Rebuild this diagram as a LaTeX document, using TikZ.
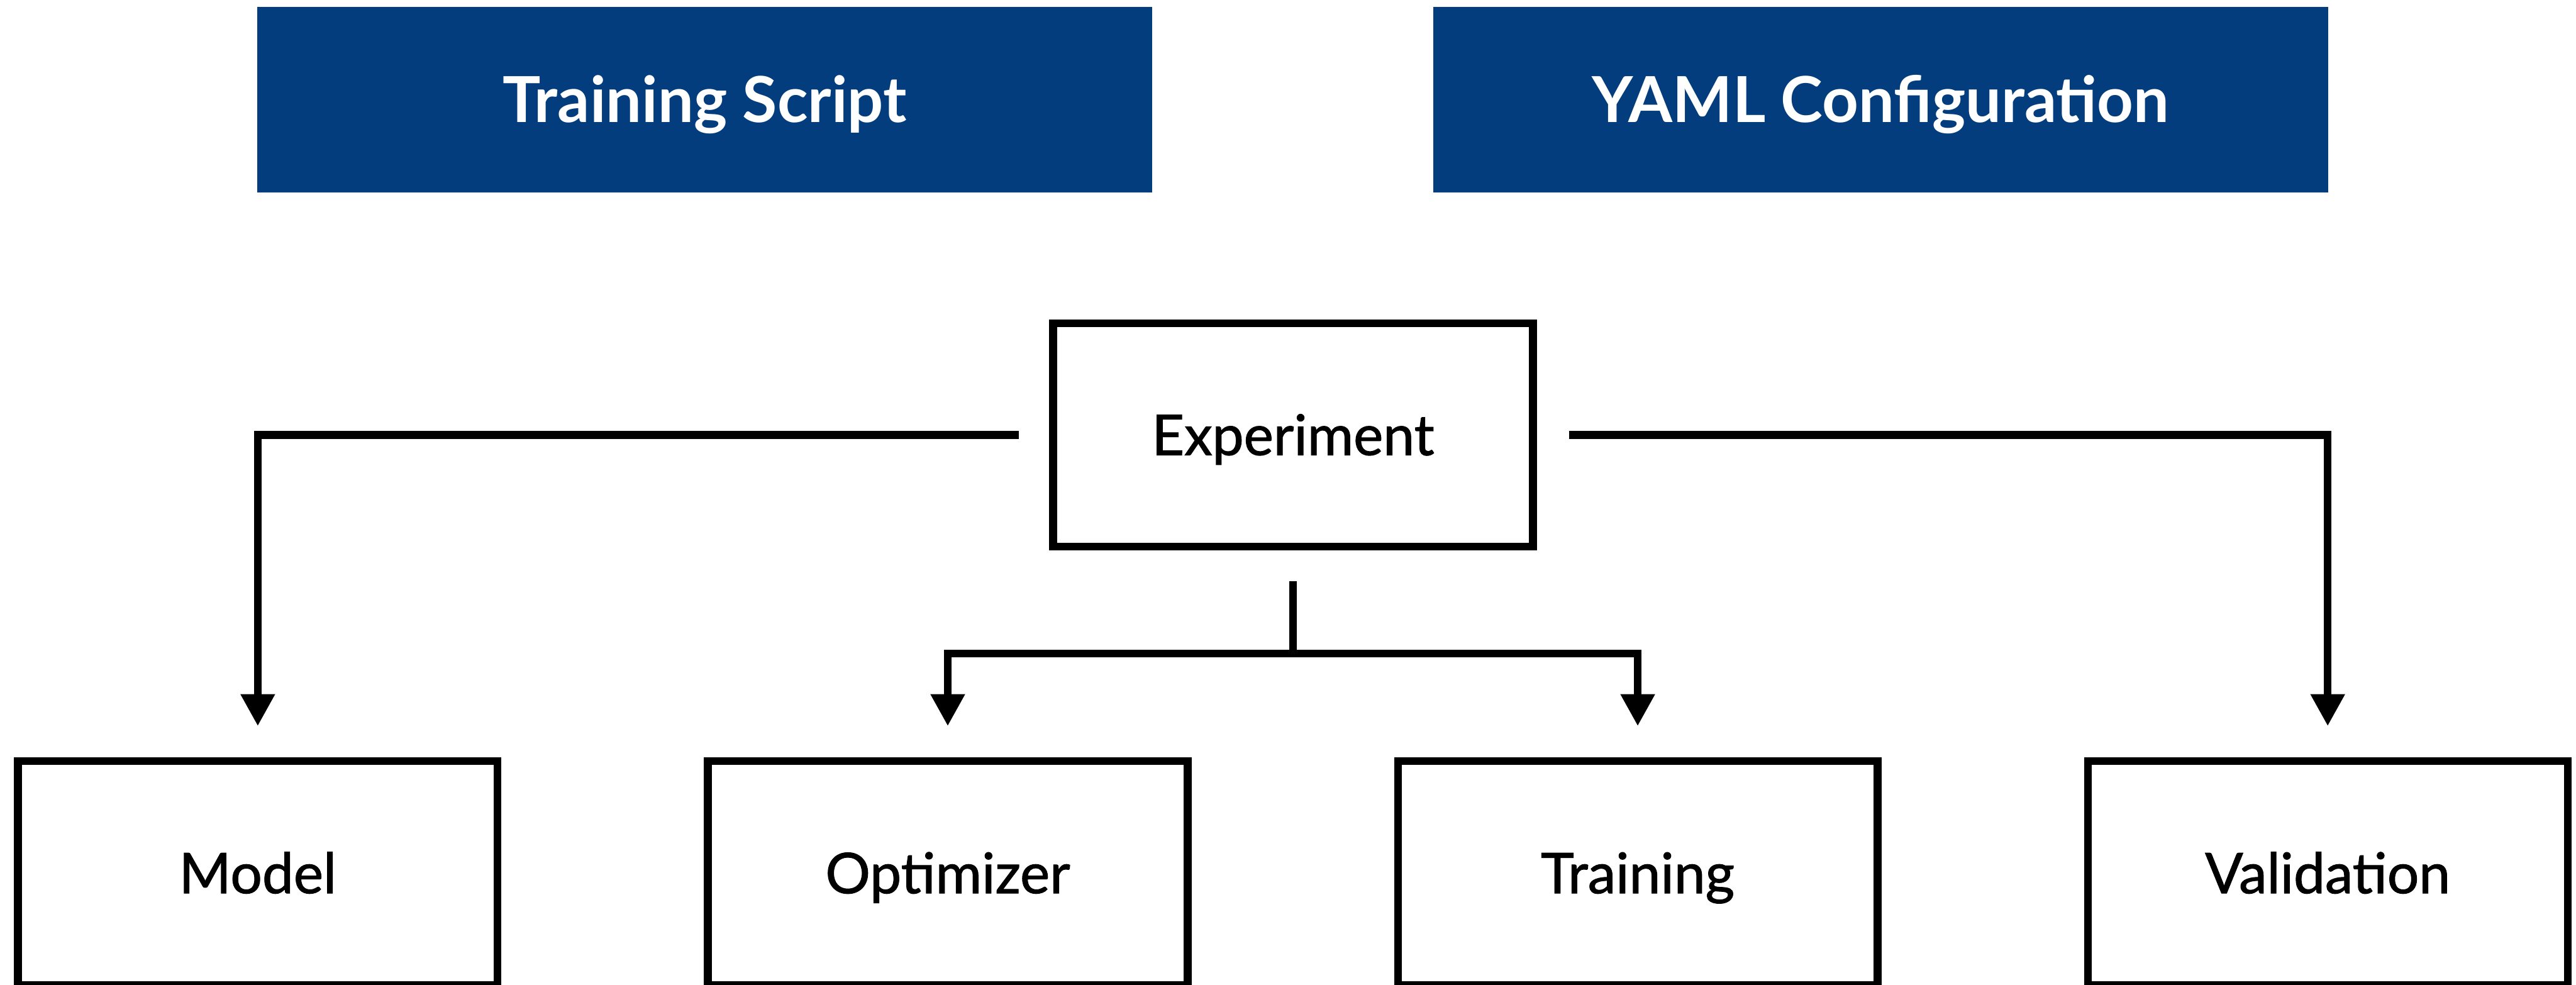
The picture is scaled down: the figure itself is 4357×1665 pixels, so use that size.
\documentclass[tikz,border=0pt]{standalone}
\usepackage{fontspec}
\setmainfont{Lato}
\newfontfamily\labelfont{Lato}[FakeBold=1.2]
\usetikzlibrary{arrows.meta}

\definecolor{headerblue}{RGB}{3,61,126}

\tikzset{
  header/.style={fill=headerblue, text=white, inner sep=0pt,
    minimum width=15.12cm, minimum height=3.13cm,
    font=\fontsize{30.5}{36}\selectfont\bfseries,
    text height=21.9pt, text depth=0pt},
  stepbox/.style={draw=black, line width=0.13cm, fill=white, inner sep=0pt,
    minimum width=8.11cm, minimum height=3.78cm,
    font=\fontsize{27}{32}\selectfont\labelfont,
    text height=19.4pt, text depth=0pt},
  link/.style={draw=black, line width=0.13cm, line join=miter},
  conn/.style={link, shorten >=0.53cm,
    -{Triangle[length=0.54cm, width=0.55cm]}},
}

\begin{document}
\begin{tikzpicture}[x=0.01cm, y=-0.01cm]
  \useasboundingbox (0,0) rectangle (4357,1665);
  \clip (0,0) rectangle (4357,1665);

  % input sources
  \node[header] (script) at (1192,168.5) {Training Script};
  \node[header] (yaml)   at (3181,168.5) {YAML Configuration};

  % central experiment object
  \node[stepbox] (exp) at (2187,735.5) {Experiment};

  % components configured by the experiment
  \node[stepbox] (model) at (436,1476.5)  {Model};
  \node[stepbox] (opt)   at (1603,1476.5) {Optimizer};
  \node[stepbox] (train) at (2770,1476.5) {Training};
  \node[stepbox] (valid) at (3937,1476.5) {Validation};

  % connectors
  \draw[conn] ([xshift=-0.52cm]exp.west) -| (model.north);
  \draw[conn] ([xshift=0.55cm]exp.east) -| (valid.north);

  \coordinate (split) at (2187,1105);
  \draw[link] ([yshift=-0.52cm]exp.south) -- (split);
  \draw[conn] (split) -| (opt.north);
  \draw[conn] (split) -| (train.north);
\end{tikzpicture}
\end{document}
